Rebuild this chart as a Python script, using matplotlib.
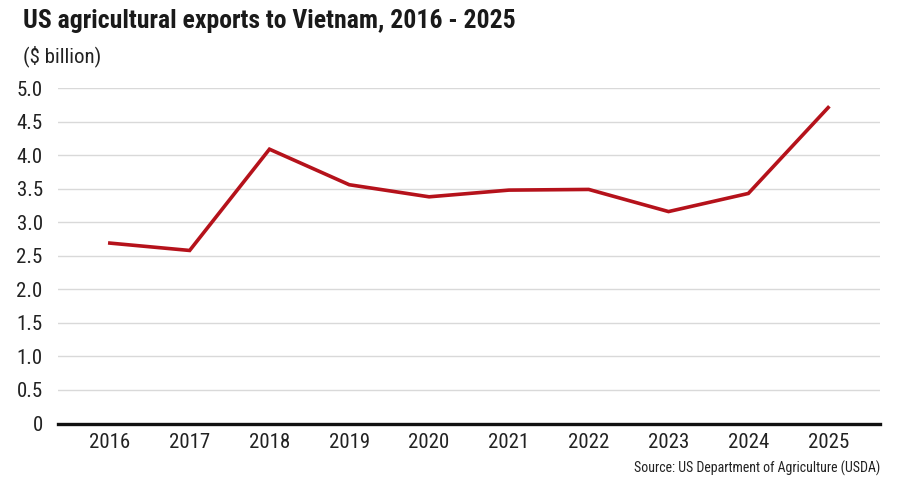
import matplotlib
matplotlib.use('Agg')
import matplotlib.pyplot as plt

# 資料
years = ['2016', '2017', '2018', '2019', '2020', '2021', '2022', '2023', '2024', '2025']
exports = [2.69, 2.58, 4.09, 3.56, 3.38, 3.48, 3.49, 3.16, 3.43, 4.71]
y_ticks = [0, 0.5, 1.0, 1.5, 2.0, 2.5, 3.0, 3.5, 4.0, 4.5, 5.0]
y_tick_labels = ['0', '0.5', '1.0', '1.5', '2.0', '2.5', '3.0', '3.5', '4.0', '4.5', '5.0']

plt.rcParams['font.family'] = ['Liberation Sans Narrow', 'Roboto Condensed', 'DejaVu Sans']
plt.rcParams['font.stretch'] = 'condensed'

fig = plt.figure(figsize=(9, 4.86), dpi=100)
ax = fig.add_axes([0.0644, 0.1286, 0.9134, 0.690])

x = list(range(len(years)))
ax.plot(x, exports, color='#b5121b', linewidth=2.6, solid_joinstyle='miter', zorder=3)

ax.set_xlim(-0.65, len(years) - 1 + 0.65)
ax.set_ylim(0, 5.0)
ax.set_xticks(x)
ax.set_xticklabels(years)
ax.set_yticks(y_ticks)
ax.set_yticklabels(y_tick_labels)

# 格線
for v in y_ticks[1:]:
    ax.axhline(v, color='#d9d9d9', linewidth=1.0, zorder=1)
ax.axhline(0, color='#111111', linewidth=2.4, zorder=4, clip_on=False)

for s in ax.spines.values():
    s.set_visible(False)
ax.tick_params(axis='both', length=0, labelsize=15, colors='#222222')
ax.tick_params(axis='y', pad=11)
ax.tick_params(axis='x', pad=7)

fig.text(0.026, 0.982, 'US agricultural exports to Vietnam, 2016 - 2025',
         fontsize=18.5, fontweight='bold', color='#1a1a1a', va='top', ha='left')
fig.text(0.026, 0.906, '($ billion)', fontsize=15, color='#222222', va='top', ha='left')
fig.text(0.978, 0.036, 'Source: US Department of Agriculture (USDA)',
         fontsize=10, color='#222222', va='center', ha='right')

plt.savefig('out.png', dpi=100)
